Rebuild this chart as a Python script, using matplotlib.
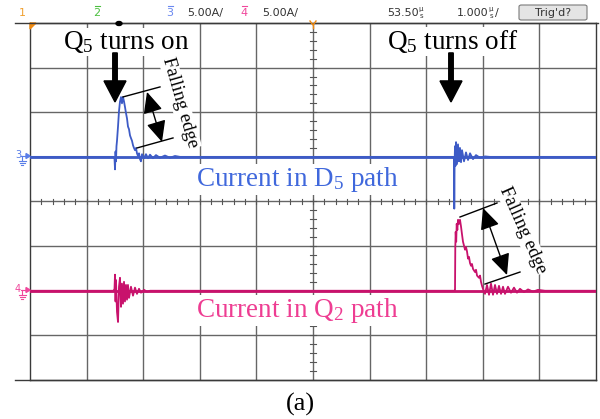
import matplotlib
matplotlib.use('Agg')
import matplotlib.pyplot as plt
import matplotlib.patches as mpatches
from matplotlib.lines import Line2D
import numpy as np

plt.rcParams['mathtext.fontset'] = 'custom'
plt.rcParams['mathtext.rm'] = 'Liberation Serif'
plt.rcParams['mathtext.it'] = 'Liberation Serif:italic'

# ---------------- data (time in us, current in A) ----------------
ch3_time = [0.0, 1.475, 1.493, 1.502, 1.511, 1.519, 1.528, 1.537, 1.555, 1.572, 1.590, 1.608,
            1.625, 1.643, 1.661, 1.678, 1.696, 1.714, 1.731, 1.749, 1.767, 1.784, 1.802, 1.820,
            1.837, 1.855, 1.873, 1.890, 1.908, 1.926, 1.943, 1.961, 1.979, 2.014, 2.049, 2.085,
            2.120, 2.173, 2.226, 2.297, 2.385, 2.473, 2.562, 2.650,
            7.473, 7.491, 7.496, 7.502, 7.509, 7.518, 7.527, 7.544, 7.562, 7.580, 7.597, 7.615,
            7.633, 7.668, 7.703, 7.739, 7.774, 7.827, 7.880, 7.951, 8.039, 8.127, 10.0]
ch3_current = [0.0, 0.0, -0.2, -1.4, 0.6, -0.5, 1.2, 1.8, 3.4, 5.1, 6.2, 6.7,
               6.0, 6.7, 6.2, 5.6, 4.9, 4.3, 3.4, 3.1, 2.4, 2.1, 1.8, 1.3,
               1.0, 0.75, 1.0, 0.4, 0.1, 0.4, -0.25, -0.5, 0.3, -0.15, 0.3, -0.15,
               0.25, -0.15, 0.2, -0.1, 0.15, -0.1, 0.1, 0.0,
               0.0, -0.2, -5.8, -0.5, 1.2, -1.0, 1.65, -0.8, 1.4, -0.5, 1.0, -0.6,
               0.75, -0.5, 0.5, -0.35, 0.4, -0.25, 0.2, -0.1, 0.05, 0.0, 0.0]

ch4_time = [0.0, 1.475, 1.493, 1.502, 1.511, 1.519, 1.537, 1.555, 1.572, 1.590, 1.608, 1.625,
            1.643, 1.661, 1.678, 1.696, 1.714, 1.731, 1.749, 1.784, 1.820, 1.855, 1.890, 1.926,
            1.961, 2.014, 2.067, 2.120,
            7.491, 7.509, 7.514, 7.521, 7.530, 7.539, 7.550, 7.562, 7.580, 7.597, 7.615, 7.633,
            7.650, 7.668, 7.686, 7.703, 7.721, 7.739, 7.756, 7.774, 7.792, 7.809, 7.827, 7.862,
            7.880, 7.898, 7.933, 7.951, 7.968, 7.986, 8.004, 8.039, 8.074, 8.110, 8.145, 8.180,
            8.216, 8.251, 8.286, 8.322, 8.357, 8.392, 8.445, 8.498, 8.551, 8.604, 8.657, 8.728,
            8.799, 8.887, 8.975, 9.099, 10.0]
ch4_current = [0.0, 0.0, 0.2, 1.8, -1.2, 1.2, -2.35, -3.5, 0.45, 1.45, -1.8, 0.8,
               -1.45, 1.0, -1.2, 0.65, -1.0, 0.65, -0.8, 0.45, -0.55, 0.35, -0.35, 0.22,
               -0.22, 0.1, -0.1, 0.0,
               0.0, 0.0, 4.9, 6.6, 5.5, 7.5, 6.8, 7.95, 7.5, 7.95, 7.2, 6.3,
               5.5, 5.05, 4.6, 4.9, 4.4, 3.6, 3.8, 3.1, 2.8, 3.0, 2.45, 2.1,
               2.35, 1.7, 1.45, 1.7, 1.0, 0.55, 0.2, -0.35, 0.65, -0.45, 0.8, -0.45,
               0.65, -0.35, 0.55, -0.35, 0.45, -0.35, 0.45, -0.22, 0.35, -0.22, 0.22, -0.15,
               0.15, -0.1, 0.1, 0.0, 0.0]

ch3_amps_per_div = 5.0
ch4_amps_per_div = 5.0
ch3_offset_div = 1.0
ch4_offset_div = -2.0
time_per_div = 1.0
n_xdiv, n_ydiv = 10, 8

header_channels = ['1', '2', '3', '4']
header_scale = ['5.00A/', '5.00A/']
header_delay = '53.50'
header_timebase = '1.000'
trig_label = "Trig'd?"

label_on = r'Q$_5$ turns on'
label_off = r'Q$_5$ turns off'
label_edge = 'Falling edge'
label_d5 = r'Current in D$_5$ path'
label_q2 = r'Current in Q$_2$ path'
caption = '(a)'

# ---------------- figure ----------------
W, H = 600, 419
fig = plt.figure(figsize=(W / 100, H / 100), dpi=100)
fig.patch.set_facecolor('white')
ax = fig.add_axes([30 / W, 1 - 380 / H, 566 / W, 357 / H])
ax.set_xlim(0, n_xdiv * time_per_div)
ax.set_ylim(-n_ydiv / 2, n_ydiv / 2)
ax.set_xticks([])
ax.set_yticks([])
for s in ax.spines.values():
    s.set_color('#3a3a3a')
    s.set_linewidth(1.0)

def P(x, y):
    return (x / W, 1 - y / H)

def fline(xs, ys, **kw):
    fig.add_artist(Line2D([x / W for x in xs], [1 - y / H for y in ys],
                          transform=fig.transFigure, **kw))

grid_c = '#666666'
for i in range(1, n_xdiv):
    ax.axvline(i * time_per_div, color=grid_c, lw=1.0, zorder=1)
for j in range(-n_ydiv // 2 + 1, n_ydiv // 2):
    ax.axhline(j, color=grid_c, lw=1.0, zorder=1)

# minor ticks on centre lines
xc = n_xdiv * time_per_div / 2
for k in np.arange(0, n_xdiv + 0.001, 0.2):
    ax.plot([k, k], [-0.06, 0.06], color='#555555', lw=0.8, zorder=1)
for k in np.arange(-n_ydiv / 2, n_ydiv / 2 + 0.001, 0.2):
    ax.plot([xc - 0.05, xc + 0.05], [k, k], color='#555555', lw=0.8, zorder=1)

# extended top / bottom rules
fline([15, 598], [23, 23], color='#3a3a3a', lw=1.0)
fline([15, 596], [380, 380], color='#3a3a3a', lw=1.0)

# traces
blue_tr = '#3d5bc6'
pink_tr = '#c8126c'
ax.axhline(ch3_offset_div, color=blue_tr, lw=2.0, zorder=3)
ax.axhline(ch4_offset_div, color=pink_tr, lw=2.0, zorder=3)
ax.plot(ch3_time, [ch3_offset_div + c / ch3_amps_per_div for c in ch3_current],
        color=blue_tr, lw=1.3, zorder=4)
ax.plot(ch4_time, [ch4_offset_div + c / ch4_amps_per_div for c in ch4_current],
        color=pink_tr, lw=1.3, zorder=4)

# ---------------- annotations ----------------
serif = 'Liberation Serif'
def tx(x, y):
    return ((x - 30) / 56.6, (201.5 - y) / 44.6)

wb = dict(facecolor='white', edgecolor='none', pad=1.0)
ax.text(*tx(126.5, 49), label_on, fontsize=19.5, family=serif, ha='center', va='baseline',
        zorder=6, bbox=wb)
ax.text(*tx(452.5, 49), label_off, fontsize=19.5, family=serif, ha='center', va='baseline',
        zorder=6, bbox=wb)

for xa in (115, 451):
    x0, y0 = tx(xa, 53)
    _, y1 = tx(xa, 102)
    ax.add_patch(mpatches.FancyArrow(x0, y0, 0, y1 - y0, width=4.5 / 56.6, head_width=22 / 56.6,
                                     head_length=21 / 44.6, length_includes_head=True,
                                     color='black', zorder=7))

# measurement lines and double arrows
for (a, b) in [((123, 97), (160, 87)), ((137, 148), (173, 138)),
               ((460, 217), (497, 203)), ((485, 284), (520, 272))]:
    ax.plot(*zip(tx(*a), tx(*b)), color='black', lw=1.0, zorder=7)
for (a, b) in [((147, 92), (162, 142)), ((483, 208), (507, 275))]:
    ax.annotate('', xy=tx(*b), xytext=tx(*a),
                arrowprops=dict(arrowstyle='<|-|>,head_length=1.3,head_width=0.6',
                                color='black', lw=1.0, shrinkA=0, shrinkB=0), zorder=7)

ax.text(*tx(180, 103), label_edge, fontsize=13.5, family=serif, rotation=-74,
        ha='center', va='center', zorder=6, bbox=dict(facecolor='white', edgecolor='none', pad=0.5))
ax.text(*tx(523, 230), label_edge, fontsize=13.5, family=serif, rotation=-66,
        ha='center', va='center', zorder=6, bbox=dict(facecolor='white', edgecolor='none', pad=0.5))

ax.text(*tx(297, 186), label_d5, fontsize=19.5, family=serif, color='#4068dc',
        ha='center', va='baseline', zorder=6, bbox=wb)
ax.text(*tx(297, 317), label_q2, fontsize=19.5, family=serif, color='#ee3d92',
        ha='center', va='baseline', zorder=6, bbox=wb)

fig.text(*P(300, 411), caption, fontsize=19, family=serif, ha='center', va='baseline')

# ground markers
for (lab, yy, col) in [('3', 156, '#5a7ee8'), ('4', 290, '#f0479c')]:
    fig.text(*P(18, yy - 1), lab, fontsize=7, color=col, ha='center', va='center')
    fline([21, 28], [yy, yy], color=col, lw=0.8)
    fig.add_artist(mpatches.Polygon([P(26, yy - 2.5), P(30, yy), P(26, yy + 2.5)],
                                    closed=True, transform=fig.transFigure, color=col))
    fline([22, 22], [yy, yy + 5], color=col, lw=0.8)
    fline([18.5, 25.5], [yy + 5, yy + 5], color=col, lw=0.8)
    fline([19.5, 24.5], [yy + 7, yy + 7], color=col, lw=0.8)
    fline([21, 23], [yy + 9, yy + 9], color=col, lw=0.8)

# trigger markers
fig.add_artist(mpatches.Polygon([P(30, 23), P(36, 23), P(30, 29)], closed=True,
                                transform=fig.transFigure, color='#f08a10'))
fline([310, 313, 316], [21, 25, 21], color='#f08a10', lw=1.0)
fline([313, 313], [25, 28], color='#f08a10', lw=1.0)
fig.add_artist(mpatches.Ellipse(P(119, 23.5), 6 / W, 4 / H, transform=fig.transFigure,
                                color='black', zorder=8))

# ---------------- header ----------------
hdr_font = dict(fontsize=8, family='DejaVu Sans', va='center')
ch_cols = ['#f0a030', '#4cc040', '#6a88f0', '#f0479c']
ch_x = [22, 97, 170, 244]
for lab, col, xx in zip(header_channels, ch_cols, ch_x):
    fig.text(*P(xx, 13), lab, color=col, ha='center', **hdr_font)
    if lab != '1':
        fline([xx - 2.5, xx + 2.5], [6.5, 6.5], color=col, lw=0.8)
fig.text(*P(187, 13), header_scale[0], color='#333333', ha='left', **hdr_font)
fig.text(*P(262, 13), header_scale[1], color='#333333', ha='left', **hdr_font)
fig.text(*P(387, 13), header_delay, color='#333333', ha='left', **hdr_font)
fig.text(*P(421, 9.5), 'µ', color='#333333', ha='center', fontsize=5, va='center')
fig.text(*P(421, 16), 's', color='#333333', ha='center', fontsize=5, va='center')
fig.text(*P(457, 13), header_timebase, color='#333333', ha='left', **hdr_font)
fig.text(*P(491, 9.5), 'µ', color='#333333', ha='center', fontsize=5, va='center')
fig.text(*P(491, 16), 's', color='#333333', ha='center', fontsize=5, va='center')
fig.text(*P(495, 13), '/', color='#333333', ha='left', **hdr_font)

x0, y0 = P(519, 20)
x1, y1 = P(587, 5)
fig.add_artist(mpatches.FancyBboxPatch((x0, y0), x1 - x0, y1 - y0,
                                       boxstyle='round,pad=0,rounding_size=0.004',
                                       transform=fig.transFigure, facecolor='#e4e4e4',
                                       edgecolor='#7a7a7a', lw=0.8))
fig.text(*P(553, 12.5), trig_label, color='#333333', ha='center', **hdr_font)

fig.savefig('out.png', dpi=100)
